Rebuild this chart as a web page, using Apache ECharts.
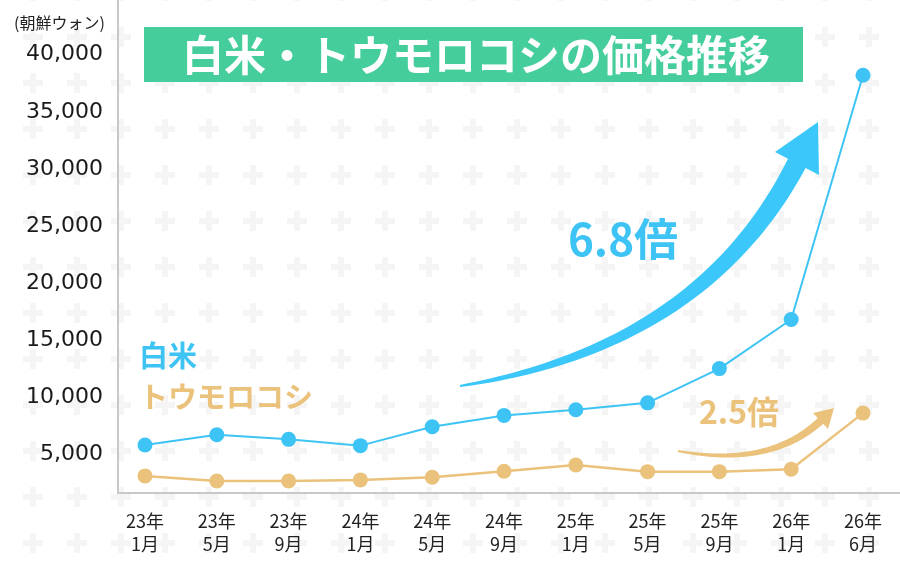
<!DOCTYPE html>
<html>
<head>
<meta charset="utf-8">
<script src="https://cdn.jsdelivr.net/npm/echarts@6/dist/echarts.min.js"></script>
<style>
html,body{margin:0;padding:0;background:#fff;}
#chart{width:900px;height:569px;}
</style>
</head>
<body>
<div id="chart"></div>
<script>
// ---- data ----
const categories = ['23年\n1月','23年\n5月','23年\n9月','24年\n1月','24年\n5月','24年\n9月','25年\n1月','25年\n5月','25年\n9月','26年\n1月','26年\n6月'];
const riceValues = [5800, 6700, 6300, 5750, 7400, 8400, 8900, 9500, 12500, 16800, 38200];
const cornValues = [3100, 2650, 2650, 2750, 2980, 3500, 4050, 3470, 3470, 3680, 8600];
const yTickValues = [5000, 10000, 15000, 20000, 25000, 30000, 35000, 40000];
const titleText = '白米・トウモロコシの価格推移';
const unitText = '(朝鮮ウォン)';
const riceName = '白米';
const cornName = 'トウモロコシ';
const riceRatio = '6.8倍';
const cornRatio = '2.5倍';

const BLUE = '#3ec4f4';
const ORANGE = '#eac27b';
const FONT = '"Noto Sans CJK JP", "Noto Sans", sans-serif';
const NUMFONT = '"DejaVu Sans", "Noto Sans", sans-serif';

// background plus pattern
(function(){
  const c = document.createElement('canvas');
  c.width = 44; c.height = 46;
  const g = c.getContext('2d');
  g.fillStyle = '#fff'; g.fillRect(0,0,44,46);
  g.fillStyle = '#f5f5f5';
  g.fillRect(12, 20, 20, 6);
  g.fillRect(19, 13, 6, 20);
  const el = document.getElementById('chart');
  el.style.backgroundImage = 'url(' + c.toDataURL() + ')';
  el.style.backgroundPosition = '11px 14px';
})();

function taperedArrow(p0, p1, p2, w0, w1, n) {
  const left = [], right = [];
  for (let i = 0; i <= n; i++) {
    const t = i / n, u = 1 - t;
    const x = u*u*p0[0] + 2*u*t*p1[0] + t*t*p2[0];
    const y = u*u*p0[1] + 2*u*t*p1[1] + t*t*p2[1];
    const dx = 2*u*(p1[0]-p0[0]) + 2*t*(p2[0]-p1[0]);
    const dy = 2*u*(p1[1]-p0[1]) + 2*t*(p2[1]-p1[1]);
    const len = Math.hypot(dx, dy) || 1;
    const nx = -dy/len, ny = dx/len;
    const w = (w0 + (w1 - w0) * Math.pow(t, 0.8)) / 2;
    left.push([x + nx*w, y + ny*w]);
    right.push([x - nx*w, y - ny*w]);
  }
  return left.concat(right.reverse());
}

const Y_MIN = 1600, Y_MAX = 44800;

const chart = echarts.init(document.getElementById('chart'), null, {renderer: 'canvas'});
chart.setOption({
  backgroundColor: 'transparent',
  animation: false,
  grid: [
    {left: 145, right: 37, top: 0, bottom: 76},
    {left: 118, right: 0, top: 0, bottom: 76}
  ],
  xAxis: [
    {
      type: 'category', gridIndex: 0, data: categories, boundaryGap: false,
      axisLine: {show: false}, axisTick: {show: false}, splitLine: {show: false},
      axisLabel: {color: '#222', fontSize: 18, lineHeight: 23, margin: 17, fontFamily: FONT, interval: 0}
    },
    {
      type: 'value', gridIndex: 1, min: 0, max: 1,
      axisLine: {show: true, onZero: false, lineStyle: {color: '#c8c8c8', width: 2}},
      axisTick: {show: false}, axisLabel: {show: false}, splitLine: {show: false}
    }
  ],
  yAxis: [
    {
      type: 'value', gridIndex: 0, min: Y_MIN, max: Y_MAX,
      axisLine: {show: false}, axisTick: {show: false}, axisLabel: {show: false}, splitLine: {show: false}
    },
    {
      type: 'value', gridIndex: 1, min: Y_MIN, max: Y_MAX,
      axisLine: {show: true, onZero: false, lineStyle: {color: '#c8c8c8', width: 2}},
      axisTick: {show: false}, splitLine: {show: false},
      axisLabel: {
        customValues: yTickValues, color: '#1a1a1a', fontSize: 22, margin: 15, fontFamily: NUMFONT,
        formatter: v => v.toLocaleString('en-US')
      }
    }
  ],
  series: [
    {
      name: riceName, type: 'line', xAxisIndex: 0, yAxisIndex: 0, data: riceValues,
      symbol: 'circle', symbolSize: 15, lineStyle: {color: BLUE, width: 2},
      itemStyle: {color: BLUE}, z: 3
    },
    {
      name: cornName, type: 'line', xAxisIndex: 0, yAxisIndex: 0, data: cornValues,
      symbol: 'circle', symbolSize: 15, lineStyle: {color: ORANGE, width: 2.5},
      itemStyle: {color: ORANGE}, z: 3
    }
  ],
  graphic: [
    {type: 'text', left: 14, top: 15, style: {text: unitText, fill: '#222', font: '16px ' + FONT}},
    {type: 'rect', shape: {x: 144, y: 27, width: 659, height: 55}, style: {fill: '#46cd9c'}, z: 10},
    {type: 'text', x: 476, y: 55, z: 11,
      style: {text: titleText, fill: '#fff', font: 'bold 42px ' + FONT, align: 'center', verticalAlign: 'middle'}},
    {type: 'text', x: 139, y: 356, z: 11,
      style: {text: riceName, fill: BLUE, font: 'bold 29px ' + FONT, align: 'left', verticalAlign: 'middle'}},
    {type: 'text', x: 139, y: 397, z: 11,
      style: {text: cornName, fill: ORANGE, font: 'bold 29px ' + FONT, align: 'left', verticalAlign: 'middle'}},
    {type: 'text', x: 623, y: 239, z: 11,
      style: {text: riceRatio, fill: BLUE, font: 'bold 44px ' + FONT, align: 'center', verticalAlign: 'middle'}},
    {type: 'text', x: 739, y: 412, z: 11,
      style: {text: cornRatio, fill: ORANGE, font: 'bold 32px ' + FONT, align: 'center', verticalAlign: 'middle'}},
    {type: 'polygon', z: 9, shape: {points: taperedArrow([460,386],[702,347],[797,163], 2, 20, 60)}, style: {fill: '#3cc7fa'}},
    {type: 'polygon', z: 9, shape: {points: [[818,122],[775,152],[819,175]]}, style: {fill: '#3cc7fa'}},
    {type: 'polygon', z: 9, shape: {points: taperedArrow([678,451],[770,468],[821,420.5], 2, 8, 40)}, style: {fill: ORANGE}},
    {type: 'polygon', z: 9, shape: {points: [[834,408],[813,413],[828,429]]}, style: {fill: ORANGE}}
  ]
});
</script>
</body>
</html>
